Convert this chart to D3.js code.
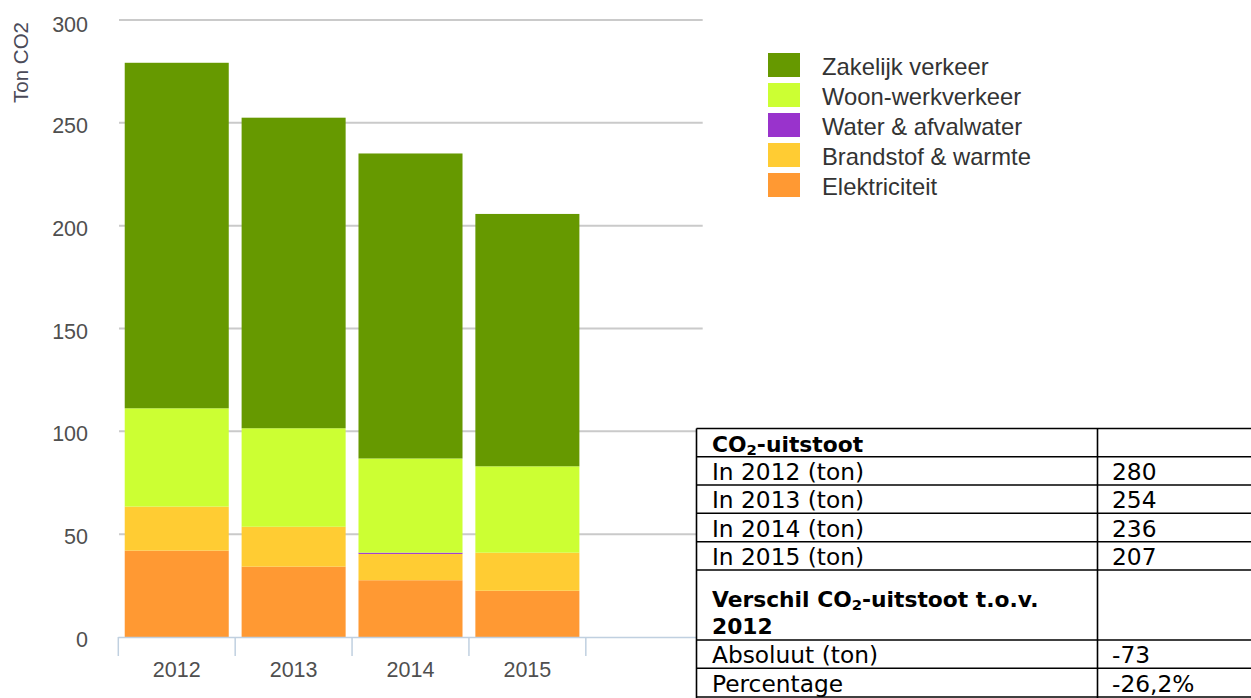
<!DOCTYPE html>
<html><head><meta charset="utf-8">
<script src="https://cdn.jsdelivr.net/npm/d3@7/dist/d3.min.js"></script>
<style>html,body{margin:0;padding:0;background:#fff;overflow:hidden}</style>
</head><body>
<svg id="c" width="1251" height="698"></svg>
<script>
const years = ["2012", "2013", "2014", "2015"];
const seriesNames = ["Elektriciteit", "Brandstof & warmte", "Water & afvalwater", "Woon-werkverkeer", "Zakelijk verkeer"];
const seriesColors = ["#ff9933", "#ffcc33", "#9933cc", "#ccff33", "#669900"];
const elektriciteit = [42.0, 34.2, 27.6, 22.5];
const brandstof = [21.4, 19.4, 12.8, 18.5];
const water = [0, 0, 0.6, 0];
const woonwerk = [47.8, 47.9, 45.8, 42.0];
const zakelijk = [168.0, 151.0, 148.3, 122.7];
const yTicks = [0, 50, 100, 150, 200, 250, 300];
const legendOrder = ["Zakelijk verkeer", "Woon-werkverkeer", "Water & afvalwater", "Brandstof & warmte", "Elektriciteit"];
const tableLabels = ["In 2012 (ton)", "In 2013 (ton)", "In 2014 (ton)", "In 2015 (ton)"];
const tableValues = ["280", "254", "236", "207"];
const diffLabels = ["Absoluut (ton)", "Percentage"];
const diffValues = ["-73", "-26,2%"];

(function () {
const svg = d3.select("#c");
const font = "'Liberation Sans', Arial, sans-serif";

const pLeft = 118.3, pRight = 702.7, pTop = 20, pBottom = 637;
const plotRight = pLeft + (pRight - pLeft) * 4 / 5;
const x = d3.scaleBand().domain(years).range([pLeft, plotRight]).paddingInner(0.11).paddingOuter(0.055);
const y = d3.scaleLinear().domain([0, 300]).range([pBottom, pTop]);

// gridlines
svg.append("g").selectAll("line").data(yTicks.filter(d => d > 0)).join("line")
  .attr("x1", 119).attr("x2", pRight).attr("y1", d => y(d)).attr("y2", d => y(d))
  .attr("stroke", "#cacaca").attr("stroke-width", 2);

// y labels
svg.append("g").selectAll("text").data(yTicks).join("text")
  .attr("x", 88).attr("y", d => y(d) + (d === 300 ? 12 : 10))
  .attr("text-anchor", "end").attr("font-family", font).attr("font-size", 21.5)
  .attr("fill", "#4f4f4f").text(d => d);

// y title
svg.append("text").attr("transform", "translate(28,22) rotate(-90)")
  .attr("text-anchor", "end").attr("font-family", font).attr("font-size", 20.5)
  .attr("fill", "#4a4a58").text("Ton CO2");

// stacked bars
const rows = years.map((yr, i) => ({year: yr,
  "Elektriciteit": elektriciteit[i], "Brandstof & warmte": brandstof[i],
  "Water & afvalwater": water[i], "Woon-werkverkeer": woonwerk[i], "Zakelijk verkeer": zakelijk[i]}));
const stack = d3.stack().keys(seriesNames)(rows);
const color = d3.scaleOrdinal().domain(seriesNames).range(seriesColors);
svg.append("g").selectAll("g").data(stack).join("g").attr("fill", d => color(d.key))
  .selectAll("rect").data(d => d).join("rect")
  .attr("x", d => x(d.data.year)).attr("width", x.bandwidth())
  .attr("y", d => y(d[1])).attr("height", d => Math.max(0, y(d[0]) - y(d[1])));

// x axis
svg.append("line").attr("x1", pLeft).attr("x2", pRight).attr("y1", pBottom + 0.5).attr("y2", pBottom + 0.5)
  .attr("stroke", "#c0d0e0").attr("stroke-width", 1.5);
const step = x.step();
const tickXs = d3.range(0, 6).map(i => pLeft + i * step);
svg.append("g").selectAll("line").data(tickXs).join("line")
  .attr("x1", d => d).attr("x2", d => d).attr("y1", pBottom).attr("y2", pBottom + 19)
  .attr("stroke", "#c0d0e0").attr("stroke-width", 1.5);
svg.append("g").selectAll("text").data(years).join("text")
  .attr("x", d => x(d) + x.bandwidth() / 2).attr("y", 676.5)
  .attr("text-anchor", "middle").attr("font-family", font).attr("font-size", 21.5)
  .attr("fill", "#4f4f4f").text(d => d);

// legend
const lg = svg.append("g").selectAll("g").data(legendOrder).join("g")
  .attr("transform", (d, i) => `translate(768,${53 + i * 30})`);
lg.append("rect").attr("width", 32).attr("height", 24).attr("fill", d => color(d));
lg.append("text").attr("x", 54).attr("y", 22).attr("font-family", font).attr("font-size", 23.8)
  .attr("fill", "#333").text(d => d);

// table
const tf = "Verdana, 'DejaVu Sans', sans-serif";
const reg = 23.3, bld = 21.8;
const tx0 = 696.5, tx1 = 1097.5, tx2 = 1252;
const lineYs = [428.5, 456.7, 485, 513.3, 541.7, 570, 640, 668.3, 697];
const tg = svg.append("g");
tg.append("rect").attr("x", tx0).attr("y", lineYs[0]).attr("width", tx2 - tx0).attr("height", 300)
  .attr("fill", "#fff");
tg.selectAll("line.h").data(lineYs).join("line").attr("class", "h")
  .attr("x1", tx0).attr("x2", tx2).attr("y1", d => d).attr("y2", d => d)
  .attr("stroke", "#000").attr("stroke-width", 1.6);
[tx0, tx1].forEach(xx => tg.append("line").attr("x1", xx).attr("x2", xx)
  .attr("y1", lineYs[0]).attr("y2", 700).attr("stroke", "#000").attr("stroke-width", 1.6));

function co2(sel, before, after, size, bold) {
  const t = sel.attr("font-family", tf).attr("font-size", size).attr("font-weight", bold ? "bold" : "normal").attr("fill", "#000");
  t.append("tspan").text(before + "CO");
  t.append("tspan").attr("font-size", size * 0.68).attr("dy", 3).text("2");
  t.append("tspan").attr("dy", -3).text(after);
}
co2(tg.append("text").attr("x", 712).attr("y", lineYs[1] - 4.5), "", "-uitstoot", bld, true);
tg.selectAll("text.lab").data(tableLabels).join("text").attr("class", "lab")
  .attr("x", 712).attr("y", (d, i) => lineYs[i + 2] - 5)
  .attr("font-family", tf).attr("font-size", reg).attr("fill", "#000").text(d => d);
tg.selectAll("text.val").data(tableValues).join("text").attr("class", "val")
  .attr("x", 1112).attr("y", (d, i) => lineYs[i + 2] - 5)
  .attr("font-family", tf).attr("font-size", reg).attr("fill", "#000").text(d => d);
co2(tg.append("text").attr("x", 712).attr("y", 606.5), "Verschil ", "-uitstoot t.o.v.", bld, true);
tg.append("text").attr("x", 712).attr("y", 633.5).attr("font-family", tf).attr("font-size", bld)
  .attr("font-weight", "bold").text("2012");
tg.selectAll("text.dl").data(diffLabels).join("text").attr("class", "dl")
  .attr("x", 712).attr("y", (d, i) => lineYs[i + 7] - 5)
  .attr("font-family", tf).attr("font-size", reg).attr("fill", "#000").text(d => d);
tg.selectAll("text.dv").data(diffValues).join("text").attr("class", "dv")
  .attr("x", 1112).attr("y", (d, i) => lineYs[i + 7] - 5)
  .attr("font-family", tf).attr("font-size", reg).attr("fill", "#000").text(d => d);
})();
</script>
</body></html>
